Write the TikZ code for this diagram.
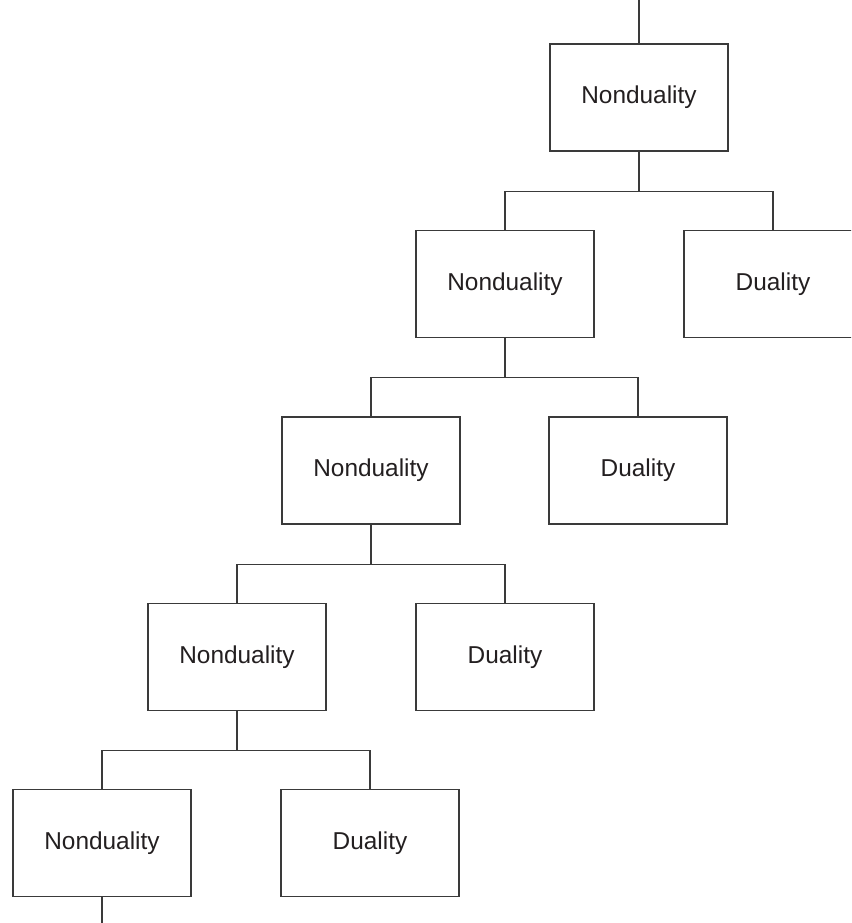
\documentclass[tikz,border=0pt]{standalone}
\usepackage{fontspec}
\setmainfont{Liberation Sans}
\usepackage{tikz}
\usetikzlibrary{positioning,calc}
\definecolor{ink}{HTML}{231F20}
\definecolor{wire}{HTML}{3A3A3A}
\tikzset{
  every picture/.style={line width=1.1pt,draw=wire},
  bx/.style={draw=wire,fill=white,minimum width=178pt,minimum height=107pt,inner sep=0pt,
    text=ink,font=\fontsize{24.4}{29}\selectfont},
  wire/.style={draw=wire},
}
\begin{document}
\begin{tikzpicture}[x=1pt,y=-1pt]
  \useasboundingbox (0,0) rectangle (851,923);
  \clip (0,0) rectangle (851,923);
  % nondual spine
  \node[bx] (non1) at (639,97.5) {Nonduality};
  \node[bx] (non2) at (505,283.8) {Nonduality};
  \node[bx] (non3) at (371,470.5) {Nonduality};
  \node[bx] (non4) at (237,656.8) {Nonduality};
  \node[bx] (non5) at (102,843.3) {Nonduality};
  % dual side branches
  \node[bx] (dual2) at (773,283.8) {Duality};
  \node[bx] (dual3) at (638,470.5) {Duality};
  \node[bx] (dual4) at (505,656.8) {Duality};
  \node[bx] (dual5) at (370,843.3) {Duality};
  \coordinate (top) at (639,0);
  \coordinate (bot) at (101,923);
  \draw[wire] (top) -- (non1.north);
  \draw[wire] (non1.south) -- ++(0,40) -| (non2.north);
  \draw[wire] (non1.south) ++(0,40) -| (dual2.north);
  \draw[wire] (non2.south) -- ++(0,40) -| (non3.north);
  \draw[wire] (non2.south) ++(0,40) -| (dual3.north);
  \draw[wire] (non3.south) -- ++(0,40) -| (non4.north);
  \draw[wire] (non3.south) ++(0,40) -| (dual4.north);
  \draw[wire] (non4.south) -- ++(0,40) -| (non5.north);
  \draw[wire] (non4.south) ++(0,40) -| (dual5.north);
  \draw[wire] (non5.south) -- (non5.south |- bot);
\end{tikzpicture}
\end{document}
